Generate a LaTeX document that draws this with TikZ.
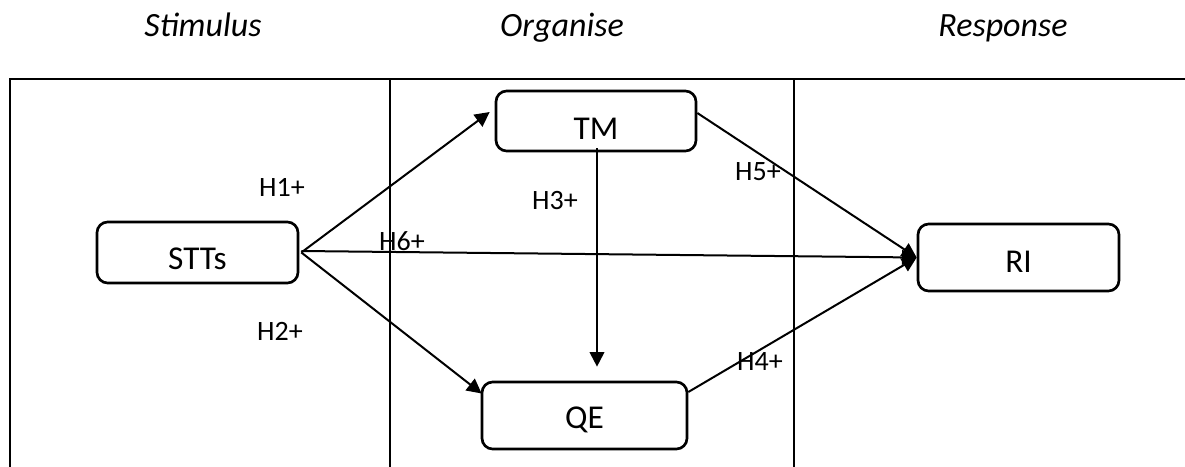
\documentclass[tikz,border=0pt]{standalone}
\usepackage{fontspec}
\setmainfont{Carlito}
\usetikzlibrary{arrows.meta,calc}
\tikzset{
  box/.style={draw, line width=2pt, rounded corners=8pt, inner sep=0pt,
    font=\fontsize{25pt}{28pt}\selectfont, text depth=0pt},
  conn/.style={line width=1.5pt, -{Triangle[length=11pt,width=11pt]}},
  frameline/.style={line width=1.1pt},
  hyp/.style={anchor=base, inner sep=0pt, font=\fontsize{21pt}{24pt}\selectfont},
  title/.style={anchor=base, inner sep=0pt, font=\fontsize{25.5pt}{30pt}\selectfont\itshape},
}
\begin{document}
\begin{tikzpicture}[x=0.75pt, y=-0.75pt]
\useasboundingbox (0,0) rectangle (1185,467);
% frame
\coordinate (ftl) at (10,79);
\coordinate (ftr) at (1185,79);
\coordinate (fbl) at (10,467);
\coordinate (v1t) at (390,79);
\coordinate (v1b) at (390,467);
\coordinate (v2t) at (794,79);
\coordinate (v2b) at (794,467);
\draw[frameline] (fbl) -- (ftl) -- (ftr);
\draw[frameline] (v1t) -- (v1b);
\draw[frameline] (v2t) -- (v2b);
% titles
\node[title] (tS) at (203,37) {Stimulus};
\node[title] (tO) at (562,37) {Organise};
\node[title] (tR) at (1003,37) {Response};
% boxes
\node[box, minimum width=150.75pt, minimum height=45.75pt, text height=25.5pt] (STTs) at (197.5,252.5) {STTs};
\node[box, minimum width=150pt, minimum height=45pt, text height=27pt] (TM) at (596,121) {TM};
\node[box, minimum width=153.75pt, minimum height=50.25pt, text height=18.75pt] (QE) at (584.5,415.5) {QE};
\node[box, minimum width=150.75pt, minimum height=50.25pt, text height=21.75pt] (RI) at (1018.5,257.5) {RI};
% connectors
\draw[conn] ($(STTs.east)+(2,0)$) -- ($(TM.west)+(-5,-9)$);
\draw[conn] ($(STTs.east)+(2,0)$) -- ($(QE.west)+(1,-22)$);
\draw[conn] ($(STTs.east)+(2,-1.5)$) -- (RI.west);
\draw[conn] ($(TM.south)+(1,-4)$) -- ($(QE.north)+(12.5,-14)$);
\draw[conn] ($(TM.east)+(0,-8)$) -- (RI.west);
\draw[conn] ($(QE.east)+(0,-23.5)$) -- (RI.west);
% labels
\node[hyp] (h1) at (282,196) {H1+};
\node[hyp] (h2) at (280,340) {H2+};
\node[hyp] (h6) at (402,250) {H6+};
\node[hyp] (h3) at (555,209) {H3+};
\node[hyp] (h5) at (758,180) {H5+};
\node[hyp] (h4) at (760,370) {H4+};
\end{tikzpicture}
\end{document}
